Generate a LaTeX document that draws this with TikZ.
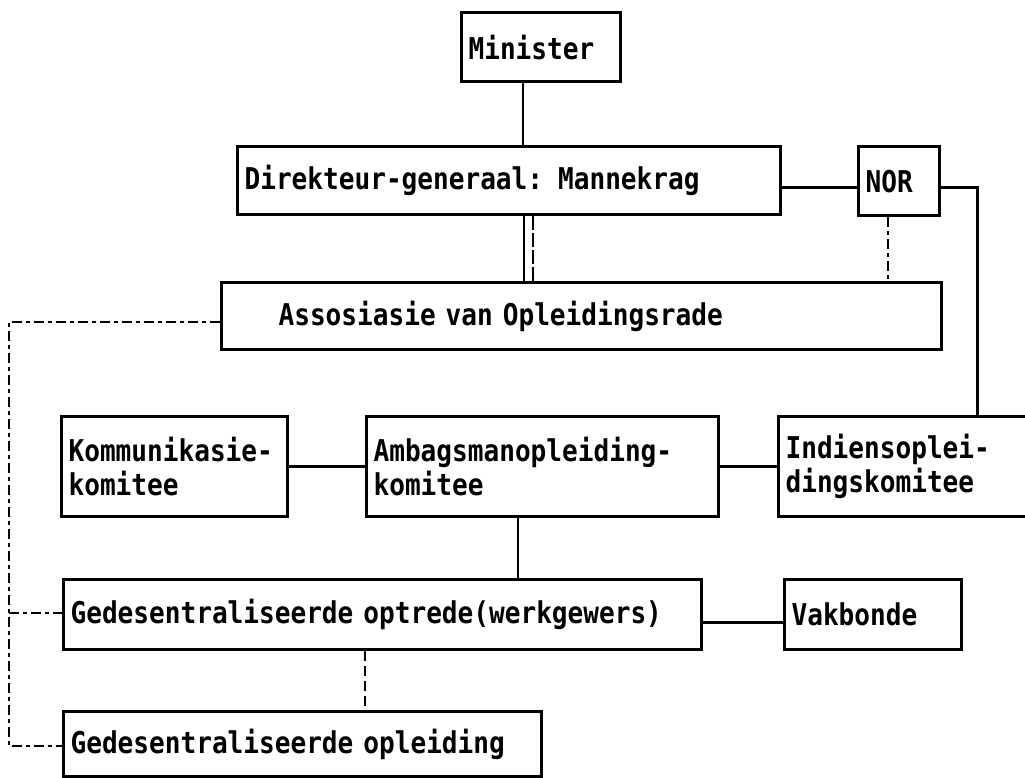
\documentclass[tikz,border=0pt]{standalone}
\usepackage{fontspec}
\newfontfamily\boxfont[FakeStretch=0.87]{DejaVu Sans Mono}
\newcommand\boxfontsetup{\boxfont\bfseries\fontsize{30}{34}\selectfont
  \spaceskip=15.7pt\relax \xspaceskip=15.7pt\relax}
\begin{document}
\begin{tikzpicture}[x=1pt,y=-1pt,
  box/.style={draw, line width=3.2pt, anchor=north west, align=left, inner xsep=7pt, inner ysep=0pt,
    font=\boxfontsetup},
  link/.style={line width=3pt},
  vlink/.style={line width=2.4pt},
  dd/.style={line width=2.6pt, dash pattern=on 10pt off 4pt on 4pt off 4pt},
  brk/.style={line width=2.4pt, dash pattern=on 10pt off 5pt}]
\fill[white] (0,0) rectangle (1025,777);
\clip (0,0) rectangle (1025,777);
% boxes
\node[box, text width=145pt, minimum height=69pt] (min) at (460,11) {Minister};
\node[box, text width=529pt, minimum height=68pt] (dir) at (236,145) {Direkteur-generaal: Mannekrag};
\node[box, text width=67pt, minimum height=69pt] (nor) at (857,145) {NOR};
\node[box, text width=706pt, minimum height=67pt] (ass) at (220,281) {\hspace*{50pt}Assosiasie van Opleidingsrade};
\node[box, text width=212pt, minimum height=100pt] (kom) at (60,415) {Kommunikasie-\\komitee};
\node[box, text width=338pt, minimum height=100pt] (amb) at (365,415) {Ambagsmanopleiding-\\komitee};
\node[box, text width=249pt, minimum height=100pt] (ind) at (777,415) {Indiensoplei-\\dingskomitee};
\node[box, text width=624pt, minimum height=70pt] (opt) at (62,578) {Gedesentraliseerde optrede(werkgewers)};
\node[box, text width=163pt, minimum height=70pt] (vak) at (783,578) {Vakbonde};
\node[box, text width=464pt, minimum height=65pt] (opl) at (62,710) {Gedesentraliseerde opleiding};
% helper coordinates
\coordinate (mx) at (523,0);
\coordinate (cy) at (0,187);
\coordinate (rx) at (977,0);
\coordinate (nx) at (888,0);
\coordinate (d1) at (524,0);
\coordinate (d2) at (533,0);
\coordinate (ay) at (0,322);
\coordinate (lx) at (9,0);
\coordinate (gy) at (0,613);
\coordinate (oy) at (0,746);
\coordinate (ax) at (518,0);
\coordinate (ox) at (365,0);
\coordinate (vy) at (0,622);
% connectors
\draw[vlink] (min.south -| mx) -- (dir.north -| mx);
\draw[link] (dir.east |- cy) -- (nor.west |- cy);
\draw[link] (nor.east |- cy) -| (ind.north -| rx);
\draw[dd] (nor.south -| nx) -- (ass.north -| nx);
\draw[vlink] (dir.south -| d1) -- (ass.north -| d1);
\draw[brk, dash pattern=on 14pt off 3pt] (dir.south -| d2) -- (ass.north -| d2);
\draw[dd] (ass.west |- ay) -- (lx |- ay) -- (lx |- oy) -- (opl.west |- oy);
\draw[dd] (lx |- gy) -- (opt.west |- gy);
\draw[link] (kom) -- (amb);
\draw[link] (amb) -- (ind);
\draw[vlink] (amb.south -| ax) -- (opt.north -| ax);
\draw[link] (opt.east |- vy) -- (vak.west |- vy);
\draw[brk] (opt.south -| ox) -- (opl.north -| ox);
\end{tikzpicture}
\end{document}
